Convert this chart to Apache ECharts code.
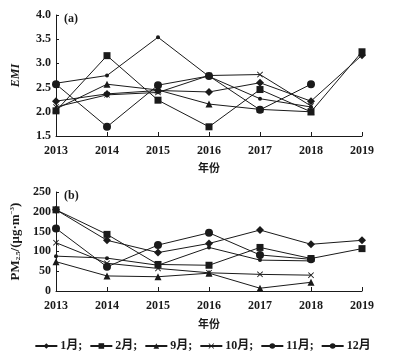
<!DOCTYPE html>
<html><head><meta charset="utf-8">
<script src="https://cdn.jsdelivr.net/npm/echarts@6/dist/echarts.min.js"></script>
<style>html,body{margin:0;padding:0;background:#fff}#c{width:405px;height:363px}</style>
</head><body><div id="c"></div>
<script>
var years = ['2013','2014','2015','2016','2017','2018','2019'];
var months = ['1月','2月','9月','10月','11月','12月'];
// EMI (panel a)
var emiJan = [2.22, 2.37, 2.44, 2.41, 2.60, 2.22, 3.17];
var emiFeb = [2.02, 3.16, 2.24, 1.69, 2.46, 2.00, 3.24];
var emiSep = [2.06, 2.57, 2.45, 2.16, 2.05, 2.00, null];
var emiOct = [2.10, 2.35, 2.40, 2.75, 2.77, 2.12, null];
var emiNov = [2.59, 2.75, 3.54, 2.73, 2.27, 2.10, null];
var emiDec = [2.57, 1.69, 2.55, 2.74, 2.04, 2.57, null];
// PM2.5 (panel b)
var pmJan = [205, 128, 97, 120, 154, 118, 128];
var pmFeb = [205, 143, 67, 65, 110, 82, 107];
var pmSep = [74, 38, 36, 45, 7, 22, null];
var pmOct = [122, 70, 57, 46, 42, 40, null];
var pmNov = [88, 83, 65, 110, 78, 76, null];
var pmDec = [158, 61, 116, 147, 91, 80, null];
var emiTicks = {min: 1.5, max: 4.0, interval: 0.5};
var pmTicks = {min: 0, max: 250, interval: 50};

var FONT = '"Liberation Serif","Noto Sans CJK SC",serif';
var ink = '#1a1a1a';
var crossPath = 'path://M0,1L1,0L5,4L9,0L10,1L6,5L10,9L9,10L5,6L1,10L0,9L4,5Z';
var symbols = [
  {symbol:'diamond', size:8},
  {symbol:'rect', size:7},
  {symbol:'triangle', size:7},
  {symbol:crossPath, size:6},
  {symbol:'circle', size:4},
  {symbol:'circle', size:8}
];
var emiData = [emiJan, emiFeb, emiSep, emiOct, emiNov, emiDec];
var pmData = [pmJan, pmFeb, pmSep, pmOct, pmNov, pmDec];

function mk(name, data, idx, i){
  return {
    name: name, type: 'line', data: data,
    xAxisIndex: idx, yAxisIndex: idx,
    symbol: symbols[i].symbol, symbolSize: symbols[i].size,
    showSymbol: true, connectNulls: false,
    lineStyle: {color: ink, width: 1},
    itemStyle: {color: ink, borderWidth: 0},
    emphasis: {disabled: true},
    z: 2
  };
}
var series = [];
months.forEach(function(m,i){ series.push(mk(m, emiData[i], 0, i)); });
months.forEach(function(m,i){ series.push(mk(m, pmData[i], 1, i)); });

function xAx(gi){
  return {
    type:'category', data: years, gridIndex: gi, boundaryGap:false,
    axisLine:{lineStyle:{color:ink, width:1}},
    axisTick:{inside:true, length:4, lineStyle:{color:ink}},
    axisLabel:{color:ink, fontFamily:FONT, fontWeight:'bold', fontSize:12, margin:9},
    name:'年份', nameLocation:'middle', nameGap: gi===0?26:27,
    nameTextStyle:{color:ink, fontFamily:'"Noto Sans CJK SC",sans-serif', fontWeight:'bold', fontSize:11}
  };
}
function yAx(gi, t, name, rich){
  return {
    type:'value', gridIndex: gi, min:t.min, max:t.max, interval:t.interval,
    axisLine:{show:true, lineStyle:{color:ink, width:1}},
    axisTick:{show:true, inside:true, length:3, lineStyle:{color:ink}},
    splitLine:{show:false},
    axisLabel:{color:ink, fontFamily:FONT, fontWeight:'bold', fontSize:12, margin:5,
      formatter: gi===0 ? function(v){return v.toFixed(1);} : null},
    name: name, nameLocation:'middle', nameGap:34, nameRotate:90,
    nameTextStyle:{color:ink, fontFamily:FONT, fontWeight:'bold', fontSize:12,
      fontStyle: gi===0?'italic':'normal', rich: rich}
  };
}
var pmRich = {
  n:{fontFamily:FONT, fontWeight:'bold', fontSize:13, color:ink},
  sub:{fontFamily:FONT, fontWeight:'bold', fontSize:7, color:ink, verticalAlign:'bottom', padding:[5,0,0,0]},
  sup:{fontFamily:FONT, fontWeight:'bold', fontSize:7, color:ink, verticalAlign:'top', padding:[0,0,5,0]}
};

var chart = echarts.init(document.getElementById('c'), null, {renderer:'canvas'});
chart.setOption({
  animation:false,
  backgroundColor:'#fff',
  grid:[
    {left:56, right:43, top:15, height:121},
    {left:56, right:43, top:192, height:99}
  ],
  xAxis:[xAx(0), xAx(1)],
  yAxis:[
    yAx(0, emiTicks, 'EMI', null),
    yAx(1, pmTicks, '{n|PM}{sub|2.5}{n|/(μg·m}{sup|−3}{n|)}', pmRich)
  ],
  legend:{
    data: months, top: 335, left:'center',
    itemWidth: 22, itemHeight: 7, itemGap: 7,
    formatter: function(n){ return n === '12月' ? n : n + ';'; },
    textStyle:{color:ink, fontFamily:FONT, fontWeight:'bold', fontSize:12, padding:[0,0,0,-2]},
    selectedMode:false
  },
  graphic:[
    {type:'text', left:64, top:13, style:{text:'(a)', fill:ink, font:'bold 12px "Liberation Serif", serif'}},
    {type:'text', left:64, top:190, style:{text:'(b)', fill:ink, font:'bold 12px "Liberation Serif", serif'}}
  ],
  series: series
});
</script></body></html>
